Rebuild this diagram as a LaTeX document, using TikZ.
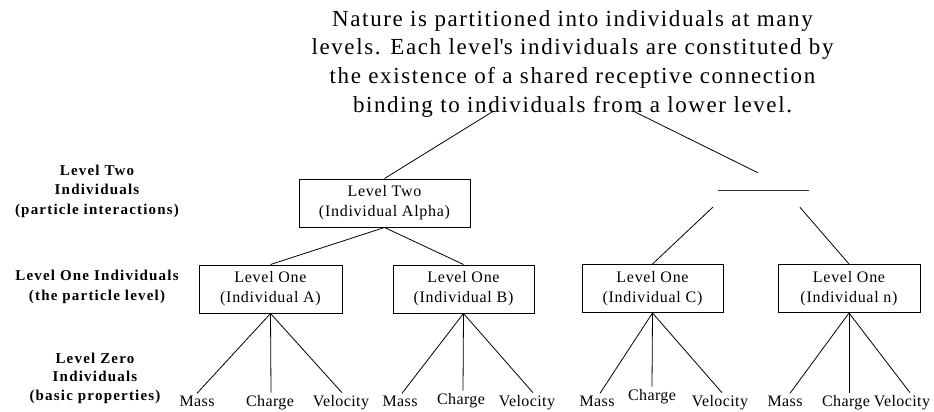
\documentclass[tikz,border=0pt]{standalone}
\usepackage{fontspec}
\setmainfont{Liberation Serif}
\newfontfamily\titlefont{Liberation Serif}[LetterSpace=7]
\newfontfamily\labelfont{Liberation Serif}[LetterSpace=8]
\newfontfamily\boxfont{Liberation Serif}[LetterSpace=4.5]
\newfontfamily\leaffont{Liberation Serif}[LetterSpace=2.5]

\tikzset{
  box/.style={draw, line width=1pt, minimum height=48pt, inner sep=2pt, align=center,
    font=\boxfont\fontsize{16}{20}\selectfont},
  leaf/.style={anchor=base, inner sep=2pt, font=\leaffont\fontsize{16}{19}\selectfont},
  lvl/.style={align=center, font=\labelfont\bfseries\fontsize{15}{19.5}\selectfont},
  link/.style={line width=0.8pt},
}

\begin{document}
\begin{tikzpicture}[x=1pt, y=-1pt]
  \path[use as bounding box] (0,0) rectangle (934,412);

  % heading
  \node[align=center, font=\titlefont\fontsize{23}{28.67}\selectfont] (title) at (572.5,63.7)
    {Nature is partitioned into individuals at many\\
     levels. Each level\textquotesingle s individuals are constituted by\\
     the existence of a shared receptive connection\\
     binding to individuals from a lower level.};
  \coordinate (tl) at (492,112);
  \coordinate (tr) at (635,112);

  % level captions on the left
  \node[lvl] (capTwo)  at (97,191)   {Level Two\\Individuals\\(particle interactions)};
  \node[lvl] (capOne)  at (97,287)   {Level One Individuals\\(the particle level)};
  \node[lvl, font=\labelfont\bfseries\fontsize{15}{18.5}\selectfont] (capZero) at (95,378)
    {Level Zero\\Individuals\\(basic properties)};

  % level two
  \node[box, minimum width=171pt] (L2) at (384.5,203) {Level Two\\(Individual Alpha)};
  \node[minimum width=100pt, minimum height=34pt, inner sep=0pt] (ph) at (763,190)
    {\textcolor{black!80}{\rule{91pt}{0.6pt}}};

  % level one
  \node[box, minimum width=143pt] (A) at (270.5,289)   {Level One\\(Individual A)};
  \node[box, minimum width=141pt] (B) at (463.5,289)   {Level One\\(Individual B)};
  \node[box, minimum width=141pt] (C) at (652.5,288.5) {Level One\\(Individual C)};
  \node[box, minimum width=142pt] (N) at (849,288.5)   {Level One\\(Individual n)};

  % level zero
  \node[leaf] (aM) at (197,406) {Mass};
  \node[leaf] (aC) at (270,406) {Charge};
  \node[leaf] (aV) at (341,406) {Velocity};
  \node[leaf] (bM) at (400,406) {Mass};
  \node[leaf] (bC) at (461,404) {Charge};
  \node[leaf] (bV) at (527,406) {Velocity};
  \node[leaf] (cM) at (597,406) {Mass};
  \node[leaf] (cC) at (652,400) {Charge};
  \node[leaf] (cV) at (720,406) {Velocity};
  \node[leaf] (nM) at (785,406) {Mass};
  \node[leaf] (nC) at (846,406) {Charge};
  \node[leaf] (nV) at (902,406) {Velocity};

  % connections
  \draw[link] (tl) -- (L2.north);
  \draw[link] (tr) -- ([xshift=-5pt]ph.north);
  \draw[link] (L2.south) -- (A.north);
  \draw[link] (L2.south) -- (B.north);
  \draw[link] (ph.south west) -- (C.north);
  \draw[link] (ph.-25) -- (N.north);

  \draw[link] (A.south) -- (aM.north);
  \draw[link] (A.south) -- ([xshift=1pt]aC.north);
  \draw[link] (A.south) -- ([xshift=1pt]aV.north);
  \draw[link] (B.south) -- ([xshift=2pt]bM.north);
  \draw[link] (B.south) -- ([xshift=2pt]bC.north);
  \draw[link] (B.south) -- ([xshift=6pt]bV.north);
  \draw[link] (C.south) -- ([xshift=3pt]cM.north);
  \draw[link] (C.south) -- (cC.north);
  \draw[link] (C.south) -- ([xshift=2pt]cV.north);
  \draw[link] (N.south) -- ([xshift=5pt]nM.north);
  \draw[link] (N.south) -- ([xshift=3pt]nC.north);
  \draw[link] (N.south) -- ([xshift=8pt]nV.north);
\end{tikzpicture}
\end{document}
